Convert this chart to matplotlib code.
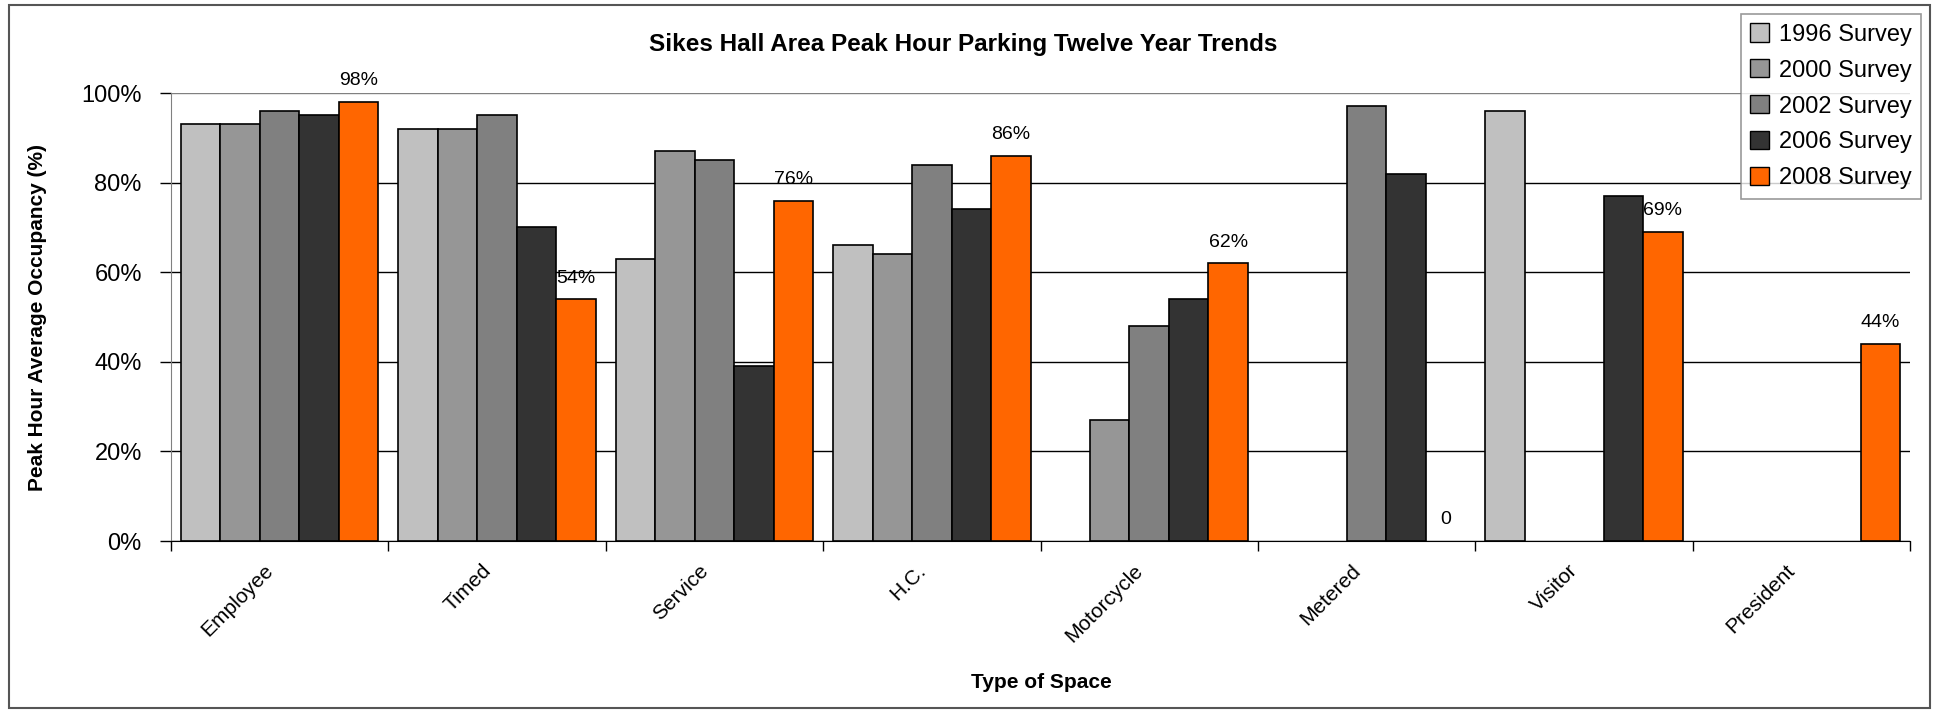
import numpy as np
import matplotlib as mpl
mpl.use('Agg')
import matplotlib.pyplot as plt
from matplotlib.patches import Rectangle
from matplotlib.transforms import ScaledTranslation

plt.rcParams['font.family'] = ['Liberation Sans', 'DejaVu Sans']

categories = ['Employee', 'Timed', 'Service', 'H.C.', 'Motorcycle', 'Metered', 'Visitor', 'President']
series = ['1996 Survey', '2000 Survey', '2002 Survey', '2006 Survey', '2008 Survey']
nan = np.nan
s1996 = [93, 92, 63, 66, nan, nan, 96, nan]
s2000 = [93, 92, 87, 64, 27, nan, nan, nan]
s2002 = [96, 95, 85, 84, 48, 97, nan, nan]
s2006 = [95, 70, 39, 74, 54, 82, 77, nan]
s2008 = [98, 54, 76, 86, 62, 0, 69, 44]
labels2008 = ['98%', '54%', '76%', '86%', '62%', '0', '69%', '44%']
colors = ['#C0C0C0', '#969696', '#808080', '#333333', '#FF6600']
yticks = [0, 20, 40, 60, 80, 100]

def main():
    fig = plt.figure(figsize=(19.38, 7.10), dpi=100)
    ax = fig.add_axes([171/1938, 1-541/710, (1910-171)/1938, (541-93)/710])

    data = [s1996, s2000, s2002, s2006, s2008]
    x = np.arange(len(categories))
    w = 1/5.5
    for i in range(5):
        xs = x + (i - 2)*w
        bars = ax.bar(xs, data[i], width=w, color=colors[i], edgecolor='black',
                      linewidth=1.2, label=series[i], zorder=3)
        # zero-height bars show nothing
        for b in bars:
            if b.get_height() == 0:
                b.set_linewidth(0)
    xs = x + 2*w
    for j in range(len(categories)):
        ax.annotate(labels2008[j], (xs[j], s2008[j]), xytext=(0, 9),
                    textcoords='offset points', ha='center', va='bottom',
                    fontsize=14, zorder=4)

    ax.set_xlim(-0.5, len(categories)-0.5)
    ax.set_ylim(0, 100)
    ax.set_yticks(yticks)
    ax.set_yticklabels(['%d%%' % t for t in yticks], fontsize=17)
    ax.tick_params(axis='y', length=8, width=1, pad=13, direction='out', colors='black')

    ax.set_xticks(x)
    ax.set_xticklabels(categories, rotation=45, ha='right', va='center',
                       rotation_mode='anchor', fontsize=15)
    ax.tick_params(axis='x', which='major', length=0, pad=19)
    shift = ScaledTranslation(-0.09, 0, fig.dpi_scale_trans)
    for lab in ax.get_xticklabels():
        lab.set_transform(lab.get_transform() + shift)
    ax.set_xticks(np.arange(len(categories)+1) - 0.5, minor=True)
    ax.tick_params(axis='x', which='minor', length=7, width=1, direction='out')

    ax.yaxis.grid(True, color='black', linewidth=1, zorder=0)
    ax.yaxis.get_gridlines()[-1].set_color('#808080')
    ax.set_axisbelow(True)
    for s in ['top', 'right']:
        ax.spines[s].set_visible(False)
    ax.spines['left'].set_color('#808080')
    ax.spines['bottom'].set_color('black')

    fig.text(38/1938, 1-317/710, 'Peak Hour Average Occupancy (%)', rotation=90,
             ha='center', va='center', fontsize=15, fontweight='bold')
    fig.text(1041/1938, 1-682/710, 'Type of Space', ha='center', va='center',
             fontsize=15, fontweight='bold')
    fig.text(963/1938, 1-45/710, 'Sikes Hall Area Peak Hour Parking Twelve Year Trends',
             ha='center', va='center', fontsize=17.5, fontweight='bold')

    leg = fig.legend(loc='upper right', bbox_to_anchor=(1921/1938, 1-14/710),
                     fontsize=17, frameon=True, fancybox=False, borderpad=0.4,
                     handlelength=0.8, handleheight=0.8, handletextpad=0.4,
                     labelspacing=0.58, borderaxespad=0)
    leg.get_frame().set_edgecolor('#808080')
    leg.get_frame().set_linewidth(1.2)
    for h in leg.legend_handles:
        h.set_linewidth(1)

    fig.patches.append(Rectangle((9/1938, 2/710), 1921/1938, 703/710, transform=fig.transFigure,
                                 fill=False, edgecolor='#555555', linewidth=1.5))
    fig.savefig('out.png', dpi=100)
    plt.close()

if __name__ == "__main__":
    main()
